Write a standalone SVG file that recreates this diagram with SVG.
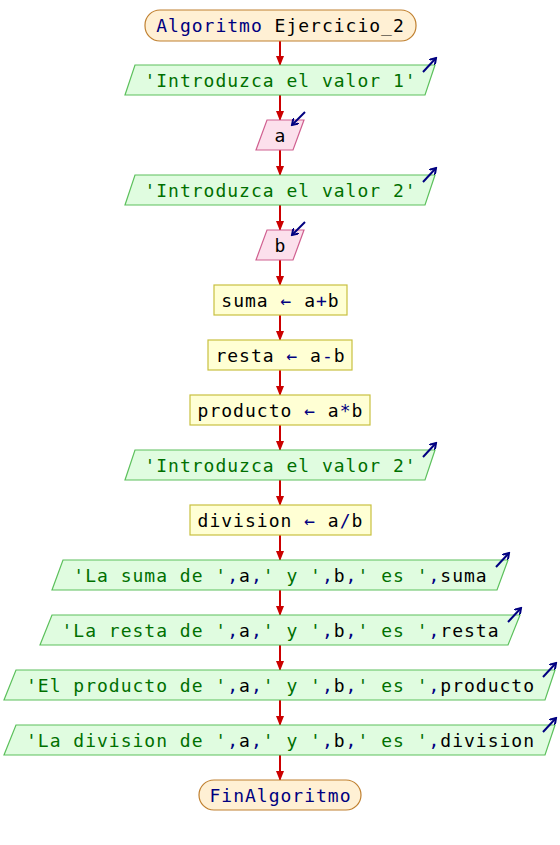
<svg xmlns="http://www.w3.org/2000/svg" width="560" height="845" viewBox="0 0 560 845">
<style>
text{font-family:"DejaVu Sans Mono","Liberation Mono",monospace;font-size:18px;letter-spacing:1px;text-anchor:middle;fill:#000}
.k{fill:#000080}.s{fill:#007000}.o{fill:#000080}
.term{fill:#fff0d4;stroke:#c08030;stroke-width:1.2}
.out{fill:#e0fce0;stroke:#5cc05c;stroke-width:1.2}
.in{fill:#fce0ec;stroke:#d06090;stroke-width:1.2}
.proc{fill:#ffffd4;stroke:#c8c040;stroke-width:1.2}
.conn{stroke:#cc0000;stroke-width:2;fill:none;marker-end:url(#ah)}
.icon{stroke:#000080;stroke-width:2;fill:none;marker-end:url(#ih)}
</style>
<defs>
<marker id="ah" markerWidth="10" markerHeight="8" refX="9" refY="4" orient="auto" markerUnits="userSpaceOnUse"><path d="M0,0 L10,4 L0,8 Z" fill="#cc0000"/></marker>
<marker id="ih" markerWidth="8" markerHeight="8" refX="6" refY="4" orient="auto" markerUnits="userSpaceOnUse"><path d="M0,0 L6,4 L0,8" fill="none" stroke="#000080" stroke-width="2"/></marker>
</defs>
<g id="connectors">
<line class="conn" x1="280" y1="41" x2="280" y2="65"/>
<line class="conn" x1="280" y1="95" x2="280" y2="120"/>
<line class="conn" x1="280" y1="150" x2="280" y2="175"/>
<line class="conn" x1="280" y1="205" x2="280" y2="230"/>
<line class="conn" x1="280" y1="260" x2="280" y2="285"/>
<line class="conn" x1="280" y1="315" x2="280" y2="340"/>
<line class="conn" x1="280" y1="370" x2="280" y2="395"/>
<line class="conn" x1="280" y1="425" x2="280" y2="450"/>
<line class="conn" x1="280" y1="480" x2="280" y2="505"/>
<line class="conn" x1="280" y1="535" x2="280" y2="560"/>
<line class="conn" x1="280" y1="590" x2="280" y2="615"/>
<line class="conn" x1="280" y1="645" x2="280" y2="670"/>
<line class="conn" x1="280" y1="700" x2="280" y2="725"/>
<line class="conn" x1="280" y1="755" x2="280" y2="780"/>
</g>
<g id="start">
<rect class="term" x="145" y="10" width="271" height="31" rx="15"/>
<text x="280.5" y="32"><tspan class="k">Algoritmo</tspan> Ejercicio_2</text>
</g>
<g id="out1">
<polygon class="out" points="135,65 435,65 425,95 125,95"/>
<line class="icon" x1="423" y1="72" x2="436" y2="58"/>
<text x="280.5" y="87" class="s">'Introduzca el valor 1'</text>
</g>
<g id="inA">
<polygon class="in" points="267,120 304,120 293,150 256,150"/>
<line class="icon" x1="305" y1="112" x2="292" y2="125"/>
<text x="280.5" y="142">a</text>
</g>
<g id="out2">
<polygon class="out" points="135,175 435,175 425,205 125,205"/>
<line class="icon" x1="423" y1="182" x2="436" y2="168"/>
<text x="280.5" y="197" class="s">'Introduzca el valor 2'</text>
</g>
<g id="inB">
<polygon class="in" points="267,230 304,230 293,260 256,260"/>
<line class="icon" x1="305" y1="222" x2="292" y2="235"/>
<text x="280.5" y="252">b</text>
</g>
<g id="suma">
<rect class="proc" x="214" y="285" width="133" height="30"/>
<text x="280.5" y="307">suma <tspan class="o">←</tspan> a<tspan class="o">+</tspan>b</text>
</g>
<g id="resta">
<rect class="proc" x="208" y="340" width="144" height="30"/>
<text x="280.5" y="362">resta <tspan class="o">←</tspan> a<tspan class="o">-</tspan>b</text>
</g>
<g id="producto">
<rect class="proc" x="190" y="395" width="180" height="30"/>
<text x="280.5" y="417">producto <tspan class="o">←</tspan> a<tspan class="o">*</tspan>b</text>
</g>
<g id="out3">
<polygon class="out" points="135,450 435,450 425,480 125,480"/>
<line class="icon" x1="423" y1="457" x2="436" y2="443"/>
<text x="280.5" y="472" class="s">'Introduzca el valor 2'</text>
</g>
<g id="division">
<rect class="proc" x="190" y="505" width="181" height="30"/>
<text x="280.5" y="527">division <tspan class="o">←</tspan> a<tspan class="o">/</tspan>b</text>
</g>
<g id="outSuma">
<polygon class="out" points="63,560 508,560 497,590 52,590"/>
<line class="icon" x1="496" y1="567" x2="509" y2="553"/>
<text x="280.5" y="582"><tspan class="s">'La suma de '</tspan><tspan class="o">,</tspan>a<tspan class="o">,</tspan><tspan class="s">' y '</tspan><tspan class="o">,</tspan>b<tspan class="o">,</tspan><tspan class="s">' es '</tspan><tspan class="o">,</tspan>suma</text>
</g>
<g id="outResta">
<polygon class="out" points="52,615 520,615 508,645 40,645"/>
<line class="icon" x1="508" y1="622" x2="521" y2="608"/>
<text x="280.5" y="637"><tspan class="s">'La resta de '</tspan><tspan class="o">,</tspan>a<tspan class="o">,</tspan><tspan class="s">' y '</tspan><tspan class="o">,</tspan>b<tspan class="o">,</tspan><tspan class="s">' es '</tspan><tspan class="o">,</tspan>resta</text>
</g>
<g id="outProducto">
<polygon class="out" points="16,670 555,670 545,700 4,700"/>
<line class="icon" x1="543" y1="677" x2="556" y2="663"/>
<text x="280.5" y="692"><tspan class="s">'El producto de '</tspan><tspan class="o">,</tspan>a<tspan class="o">,</tspan><tspan class="s">' y '</tspan><tspan class="o">,</tspan>b<tspan class="o">,</tspan><tspan class="s">' es '</tspan><tspan class="o">,</tspan>producto</text>
</g>
<g id="outDivision">
<polygon class="out" points="16,725 555,725 545,755 4,755"/>
<line class="icon" x1="543" y1="732" x2="556" y2="718"/>
<text x="280.5" y="747"><tspan class="s">'La division de '</tspan><tspan class="o">,</tspan>a<tspan class="o">,</tspan><tspan class="s">' y '</tspan><tspan class="o">,</tspan>b<tspan class="o">,</tspan><tspan class="s">' es '</tspan><tspan class="o">,</tspan>division</text>
</g>
<g id="end">
<rect class="term" x="199" y="780" width="162" height="30" rx="15"/>
<text x="280.5" y="802" class="k">FinAlgoritmo</text>
</g>
</svg>
